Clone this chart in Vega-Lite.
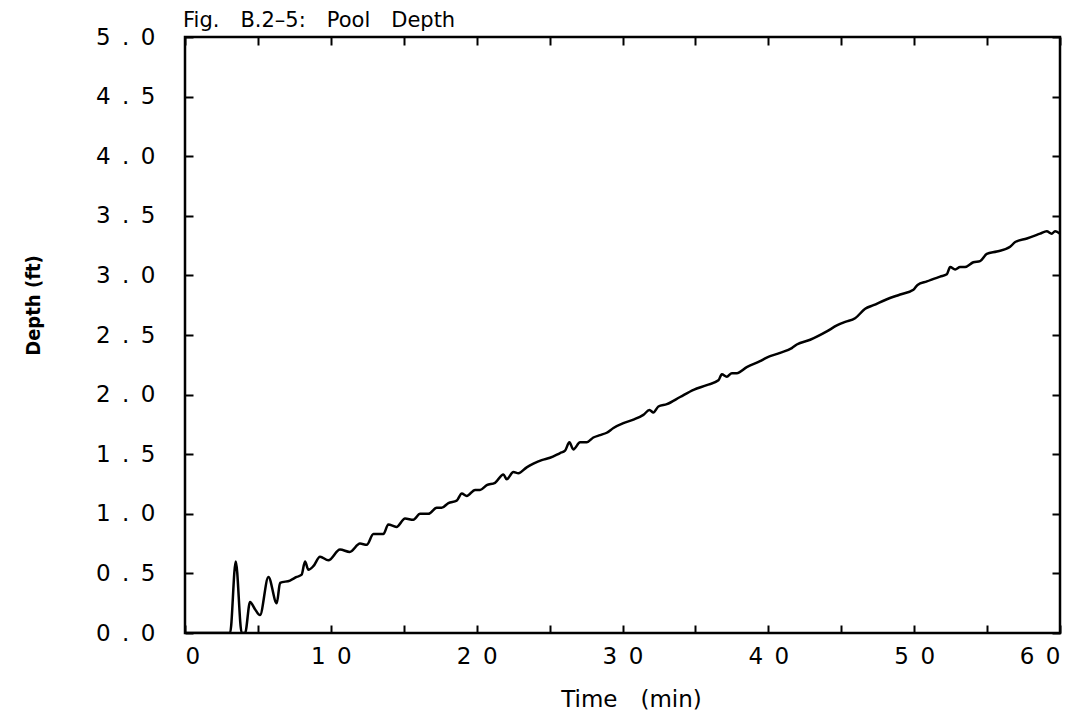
{
  "$schema": "https://vega.github.io/schema/vega-lite/v6.json",
  "width": 875,
  "height": 596,
  "autosize": "none",
  "padding": {"left": 185, "top": 37, "right": 30, "bottom": 86},
  "background": "white",
  "title": {"text": "Fig.\u2003B.2–5:\u2003Pool\u2003Depth", "anchor": "start", "frame": "group", "font": "DejaVu Sans", "fontSize": 21, "fontWeight": "normal", "color": "black", "offset": -5, "dx": -2},
  "config": {
    "view": {"stroke": "black", "strokeWidth": 2.5},
    "axis": {"grid": false, "domain": false, "tickColor": "black", "tickWidth": 2, "tickSize": -8, "labelColor": "black", "labelFont": "DejaVu Sans", "labelFontSize": 23, "titleColor": "black"}
  },
  "data": {"values": [
    {"t": 0, "d": 0}, {"t": 3.09, "d": 0}, {"t": 3.48, "d": 0.6}, {"t": 3.89, "d": 0}, {"t": 4.12, "d": 0},
    {"t": 4.46, "d": 0.26}, {"t": 4.8, "d": 0.2}, {"t": 5.14, "d": 0.15}, {"t": 5.72, "d": 0.47}, {"t": 6.29, "d": 0.25},
    {"t": 6.52, "d": 0.42}, {"t": 7.2, "d": 0.44}, {"t": 7.66, "d": 0.47}, {"t": 8.0, "d": 0.49}, {"t": 8.23, "d": 0.6},
    {"t": 8.46, "d": 0.53}, {"t": 8.8, "d": 0.56}, {"t": 9.26, "d": 0.64}, {"t": 9.83, "d": 0.61}, {"t": 10.63, "d": 0.7},
    {"t": 11.3, "d": 0.68}, {"t": 12.0, "d": 0.75}, {"t": 12.46, "d": 0.74}, {"t": 12.92, "d": 0.83}, {"t": 13.6, "d": 0.83},
    {"t": 13.94, "d": 0.91}, {"t": 14.5, "d": 0.89}, {"t": 15.09, "d": 0.96}, {"t": 15.66, "d": 0.95}, {"t": 16.12, "d": 1.0},
    {"t": 16.69, "d": 1.0}, {"t": 17.26, "d": 1.05}, {"t": 17.6, "d": 1.05}, {"t": 18.06, "d": 1.09}, {"t": 18.63, "d": 1.11},
    {"t": 18.98, "d": 1.17}, {"t": 19.32, "d": 1.15}, {"t": 19.89, "d": 1.2}, {"t": 20.23, "d": 1.2}, {"t": 20.69, "d": 1.24},
    {"t": 21.26, "d": 1.26}, {"t": 21.83, "d": 1.33}, {"t": 22.06, "d": 1.29}, {"t": 22.52, "d": 1.35}, {"t": 22.86, "d": 1.34},
    {"t": 23.43, "d": 1.39}, {"t": 23.89, "d": 1.42}, {"t": 24.46, "d": 1.45}, {"t": 25.03, "d": 1.47}, {"t": 25.72, "d": 1.51},
    {"t": 26.06, "d": 1.53}, {"t": 26.36, "d": 1.6}, {"t": 26.63, "d": 1.54}, {"t": 27.09, "d": 1.6}, {"t": 27.55, "d": 1.6},
    {"t": 28.0, "d": 1.64}, {"t": 28.46, "d": 1.66}, {"t": 28.92, "d": 1.68}, {"t": 29.38, "d": 1.72}, {"t": 30.06, "d": 1.76},
    {"t": 30.75, "d": 1.79}, {"t": 31.43, "d": 1.83}, {"t": 31.85, "d": 1.87}, {"t": 32.12, "d": 1.85}, {"t": 32.46, "d": 1.9},
    {"t": 33.04, "d": 1.92}, {"t": 33.95, "d": 1.98}, {"t": 34.87, "d": 2.04}, {"t": 35.78, "d": 2.08}, {"t": 36.58, "d": 2.12},
    {"t": 36.81, "d": 2.17}, {"t": 37.15, "d": 2.15}, {"t": 37.5, "d": 2.18}, {"t": 37.84, "d": 2.18}, {"t": 38.52, "d": 2.23},
    {"t": 39.43, "d": 2.28}, {"t": 39.89, "d": 2.31}, {"t": 40.81, "d": 2.35}, {"t": 41.61, "d": 2.39}, {"t": 41.95, "d": 2.42},
    {"t": 42.87, "d": 2.46}, {"t": 44.01, "d": 2.53}, {"t": 44.7, "d": 2.58}, {"t": 45.27, "d": 2.61}, {"t": 45.95, "d": 2.64},
    {"t": 46.64, "d": 2.72}, {"t": 47.21, "d": 2.75}, {"t": 48.13, "d": 2.8}, {"t": 49.04, "d": 2.84}, {"t": 49.95, "d": 2.88},
    {"t": 50.23, "d": 2.92}, {"t": 50.87, "d": 2.95}, {"t": 51.78, "d": 2.99}, {"t": 52.24, "d": 3.01}, {"t": 52.47, "d": 3.07},
    {"t": 52.81, "d": 3.05}, {"t": 53.15, "d": 3.07}, {"t": 53.49, "d": 3.07}, {"t": 54.06, "d": 3.11}, {"t": 54.52, "d": 3.12},
    {"t": 54.98, "d": 3.18}, {"t": 55.66, "d": 3.2}, {"t": 56.58, "d": 3.24}, {"t": 56.93, "d": 3.28}, {"t": 57.73, "d": 3.31},
    {"t": 58.64, "d": 3.35}, {"t": 59.09, "d": 3.37}, {"t": 59.43, "d": 3.35}, {"t": 59.66, "d": 3.37}, {"t": 60, "d": 3.35}
  ]},
  "layer": [
    {
      "mark": {"type": "line", "color": "black", "strokeWidth": 2.5, "clip": true, "interpolate": "monotone"},
      "encoding": {
        "x": {"field": "t", "type": "quantitative", "scale": {"domain": [0, 60], "nice": false, "zero": false},
          "axis": {"orient": "bottom", "values": [0,5,10,15,20,25,30,35,40,45,50,55,60], "labelPadding": 20, "labelFontSize": 23, "labelFont": "DejaVu Sans",
            "labelExpr": "datum.value % 10 == 0 ? (datum.value == 0 ? '0' : format(datum.value / 10, 'd') + '\u2002' + '0') : ''",
            "title": "Time\u2003(min)", "titleFont": "DejaVu Sans", "titleFontSize": 23, "titleFontWeight": "normal",
            "titleX": 446, "titleY": 66, "titleAlign": "center", "titleBaseline": "middle"}},
        "y": {"field": "d", "type": "quantitative", "scale": {"domain": [0, 5], "nice": false},
          "axis": {"orient": "left", "values": [0,0.5,1,1.5,2,2.5,3,3.5,4,4.5,5], "labelPadding": 38, "labelFontSize": 23, "labelFont": "DejaVu Sans",
            "labelExpr": "replace(format(datum.value, '.1f'), '.', '\u2002.\u2002')",
            "title": "Depth (ft)", "titleFont": "DejaVu Sans Condensed", "titleFontSize": 20, "titleFontWeight": "bold",
            "titleAngle": -90, "titleX": -152, "titleY": 268, "titleAlign": "center", "titleBaseline": "middle"}}
      }
    },
    {
      "mark": {"type": "line", "opacity": 0},
      "encoding": {
        "x": {"field": "t", "type": "quantitative", "scale": {"domain": [0, 60], "nice": false, "zero": false},
          "axis": {"orient": "top", "values": [0,5,10,15,20,25,30,35,40,45,50,55,60], "labels": false, "title": null}},
        "y": {"field": "d", "type": "quantitative", "scale": {"domain": [0, 5], "nice": false},
          "axis": {"orient": "right", "values": [0,0.5,1,1.5,2,2.5,3,3.5,4,4.5,5], "labels": false, "title": null}}
      }
    }
  ],
  "resolve": {"axis": {"x": "independent", "y": "independent"}}
}
